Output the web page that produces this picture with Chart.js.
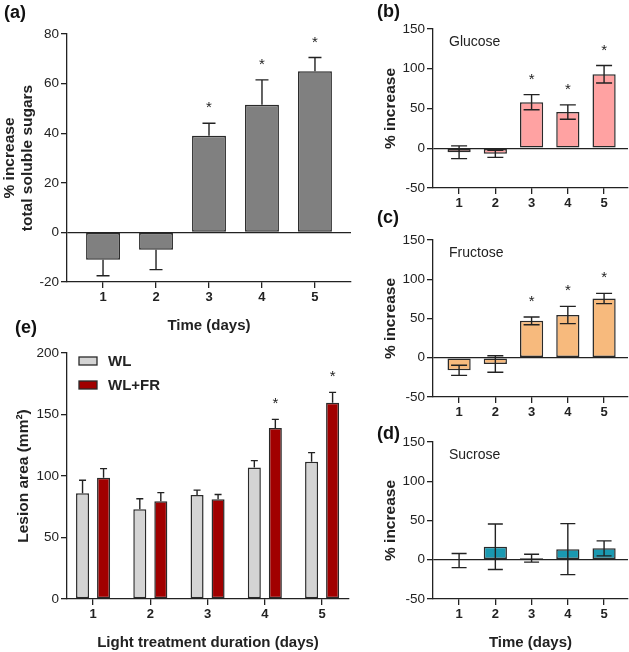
<!DOCTYPE html>
<html><head><meta charset="utf-8">
<script src="https://cdn.jsdelivr.net/npm/chart.js@4.4.1/dist/chart.umd.min.js"></script>
<style>
html,body{margin:0;padding:0;background:#fff;}
#wrap{position:relative;width:629px;height:652px;overflow:hidden;font-family:'Liberation Sans',Arial,sans-serif;}
canvas{position:absolute;}
.pl{position:absolute;font-weight:bold;font-size:18px;color:#111;line-height:20px;}
</style></head><body>
<div id="wrap">
<canvas id="ca" width="356" height="335" style="left:0;top:0;width:356px;height:335px"></canvas>
<canvas id="cb" width="249" height="212" style="left:380px;top:0;width:249px;height:212px"></canvas>
<canvas id="cc" width="249" height="210" style="left:380px;top:212px;width:249px;height:210px"></canvas>
<canvas id="cd" width="249" height="230" style="left:380px;top:422px;width:249px;height:230px"></canvas>
<canvas id="ce" width="356" height="317" style="left:0;top:335px;width:356px;height:317px"></canvas>
<div class="pl" style="left:4px;top:2px">(a)</div>
<div class="pl" style="left:377px;top:1px">(b)</div>
<div class="pl" style="left:377px;top:207px">(c)</div>
<div class="pl" style="left:377px;top:423px">(d)</div>
<div class="pl" style="left:15px;top:317px">(e)</div>
</div>
<script>
// ---- data ----
const days = [1, 2, 3, 4, 5];
const dayLabels = ['1', '2', '3', '4', '5'];

const totalMean = [-11, -7, 39, 51.5, 65];
const totalErr  = [6.5, 8, 5, 10, 5.5];
const totalSig  = [false, false, true, true, true];

const glucoseMean = [-5, -7, 58, 45.5, 93];
const glucoseErr  = [8, 4.5, 9.5, 9, 11];
const glucoseSig  = [false, false, true, true, true];

const fructoseMean = [-16, -8, 47, 54.5, 75.5];
const fructoseErr  = [6.5, 10.5, 5, 11, 6.5];
const fructoseSig  = [false, false, true, true, true];

const sucroseMean = [-1, 16.5, 2, 13.5, 14.5];
const sucroseErr  = [9, 29, 5, 32.5, 9.5];
const sucroseSig  = [false, false, false, false, false];

const wlMean = [86, 73, 84.5, 107, 111.5];
const wlErr  = [10.5, 8.5, 4, 5.5, 7.5];
const wlSig  = [false, false, false, false, false];

const wlfrMean = [98.5, 79.5, 81, 139, 159.5];
const wlfrErr  = [7.5, 7, 4, 7, 8.5];
const wlfrSig  = [false, false, false, true, true];

// ---- rendering ----
Chart.defaults.font.family = "'Liberation Sans', Arial, sans-serif";
Chart.defaults.color = '#222';

const INK = '#222';

const barExtras = {
  id: 'barExtras',
  afterDatasetsDraw(chart, args, opts) {
    const ctx = chart.ctx, y = chart.scales.y, area = chart.chartArea;
    ctx.save();
    chart.data.datasets.forEach((ds, di) => {
      const meta = chart.getDatasetMeta(di);
      meta.data.forEach((bar, i) => {
        const m = ds.data[i].y, e = ds.err[i];
        const up = !ds.oneSided || m >= 0;
        const down = !ds.oneSided || m < 0;
        const hi = up ? m + e : m;
        const lo = down ? m - e : m;
        const yh = y.getPixelForValue(hi), yl = y.getPixelForValue(lo);
        const cw = opts.cap / 2;
        ctx.strokeStyle = INK; ctx.lineWidth = 1.4;
        ctx.beginPath();
        ctx.moveTo(bar.x, yh); ctx.lineTo(bar.x, yl);
        if (up) { ctx.moveTo(bar.x - cw, yh); ctx.lineTo(bar.x + cw, yh); }
        if (down) { ctx.moveTo(bar.x - cw, yl); ctx.lineTo(bar.x + cw, yl); }
        ctx.stroke();
        if (ds.sig && ds.sig[i]) {
          ctx.fillStyle = INK;
          ctx.font = "15px 'Liberation Sans', Arial, sans-serif";
          ctx.textAlign = 'center'; ctx.textBaseline = 'alphabetic';
          ctx.fillText('*', bar.x, yh - 11);
        }
      });
    });
    if (opts.label) {
      ctx.fillStyle = INK;
      ctx.font = "14px 'Liberation Sans', Arial, sans-serif";
      ctx.textAlign = 'left'; ctx.textBaseline = 'middle';
      ctx.fillText(opts.label, area.left + 16, area.top + 13);
    }
    if (opts.legend) {
      chart.data.datasets.forEach((ds, di) => {
        const cy = area.top + 8 + di * 24;
        const bx = area.left + 12;
        ctx.fillStyle = ds.backgroundColor;
        ctx.fillRect(bx, cy - 4, 18, 8);
        ctx.strokeStyle = ds.borderColor; ctx.lineWidth = 1.3;
        ctx.strokeRect(bx, cy - 4, 18, 8);
        ctx.fillStyle = INK;
        ctx.font = "bold 15px 'Liberation Sans', Arial, sans-serif";
        ctx.textAlign = 'left'; ctx.textBaseline = 'middle';
        ctx.fillText(ds.label, bx + 29, cy + 1);
      });
    }
    ctx.restore();
  }
};

function makeChart(id, o) {
  return new Chart(document.getElementById(id), {
    type: 'bar',
    data: {
      datasets: o.series.map(s => ({
        label: s.label,
        data: days.map((d, i) => ({ x: d, y: s.mean[i] })),
        err: s.err, sig: s.sig, oneSided: o.oneSided,
        backgroundColor: s.color, borderColor: '#2a2a2a', borderWidth: 1.5,
        borderSkipped: false,
        categoryPercentage: o.cat, barPercentage: o.bar
      }))
    },
    options: {
      responsive: false, animation: false, events: [],
      layout: { padding: o.pad },
      plugins: {
        legend: { display: false }, tooltip: { enabled: false },
        barExtras: { cap: o.cap, label: o.label, legend: o.legend }
      },
      scales: {
        x: {
          type: 'linear', min: o.xmin, max: o.xmax, offset: false,
          afterFit: s => { s.height = o.xh; },
          afterBuildTicks: s => { s.ticks = days.map(v => ({ value: v })); },
          ticks: {
            stepSize: 1, includeBounds: false, autoSkip: false, maxRotation: 0, padding: 2,
            font: { size: 13, weight: 'bold' }, color: INK,
            callback: v => dayLabels[days.indexOf(v)]
          },
          grid: { display: true, offset: false, drawOnChartArea: false, drawTicks: true, tickLength: 6, color: INK, lineWidth: 1.3 },
          border: { display: true, color: INK, width: 1.3 },
          title: o.xtitle ? { display: true, text: o.xtitle, color: INK, font: { size: 15, weight: 'bold' }, padding: { top: 0, bottom: 0 } } : { display: false }
        },
        y: {
          min: o.ymin, max: o.ymax,
          afterFit: s => { s.width = o.yw; },
          ticks: { stepSize: o.ystep, font: { size: 13.5 }, color: INK, padding: 2 },
          grid: {
            drawOnChartArea: true, drawTicks: true, tickLength: 6, lineWidth: 1.3,
            color: c => (o.zero && c.tick && c.tick.value === 0) ? INK : 'rgba(0,0,0,0)',
            tickColor: INK
          },
          border: { display: true, color: INK, width: 1.3 },
          title: { display: true, text: o.ytitle, color: INK, font: { size: 15.5, weight: 'bold', lineHeight: 1.2 }, padding: { top: o.ytpad, bottom: 0 } }
        }
      }
    },
    plugins: [barExtras]
  });
}

makeChart('ca', {
  series: [{ label: 'Total', mean: totalMean, err: totalErr, sig: totalSig, color: '#808080' }],
  oneSided: true, cat: 0.8, bar: 0.8, cap: 13,
  pad: { top: 34, right: 5, bottom: 0, left: 0 },
  xmin: 0.32, xmax: 5.68, xh: 53, xtitle: 'Time (days)',
  ymin: -20, ymax: 80, ystep: 20, yw: 67, zero: true,
  ytitle: ['% increase', 'total soluble sugars'], ytpad: 0
});

makeChart('cb', {
  series: [{ label: 'Glucose', mean: glucoseMean, err: glucoseErr, sig: glucoseSig, color: '#ffa2a2' }],
  oneSided: false, cat: 0.8, bar: 0.8, cap: 16, label: 'Glucose',
  pad: { top: 29, right: 1, bottom: 0, left: 0 },
  xmin: 0.28, xmax: 5.66, xh: 24,
  ymin: -50, ymax: 150, ystep: 50, yw: 53, zero: true,
  ytitle: '% increase', ytpad: 1
});

makeChart('cc', {
  series: [{ label: 'Fructose', mean: fructoseMean, err: fructoseErr, sig: fructoseSig, color: '#f7ba7d' }],
  oneSided: false, cat: 0.8, bar: 0.8, cap: 16, label: 'Fructose',
  pad: { top: 28, right: 1, bottom: 0, left: 0 },
  xmin: 0.28, xmax: 5.66, xh: 25,
  ymin: -50, ymax: 150, ystep: 50, yw: 53, zero: true,
  ytitle: '% increase', ytpad: 1
});

makeChart('cd', {
  series: [{ label: 'Sucrose', mean: sucroseMean, err: sucroseErr, sig: sucroseSig, color: '#1a99b1' }],
  oneSided: false, cat: 0.8, bar: 0.8, cap: 15, label: 'Sucrose',
  pad: { top: 20, right: 1, bottom: 0, left: 0 },
  xmin: 0.28, xmax: 5.66, xh: 53, xtitle: 'Time (days)',
  ymin: -50, ymax: 150, ystep: 50, yw: 53, zero: true,
  ytitle: '% increase', ytpad: 1
});

makeChart('ce', {
  series: [
    { label: 'WL', mean: wlMean, err: wlErr, sig: wlSig, color: '#d4d4d4' },
    { label: 'WL+FR', mean: wlfrMean, err: wlfrErr, sig: wlfrSig, color: '#a10000' }
  ],
  oneSided: true, cat: 0.734, bar: 0.62, cap: 7, legend: true,
  pad: { top: 18, right: 7, bottom: 0, left: 0 },
  xmin: 0.545, xmax: 5.47, xh: 53, xtitle: 'Light treatment duration (days)',
  ymin: 0, ymax: 200, ystep: 50, yw: 67, zero: false,
  ytitle: 'Lesion area (mm\u00B2)', ytpad: 14
});
</script>
</body></html>
